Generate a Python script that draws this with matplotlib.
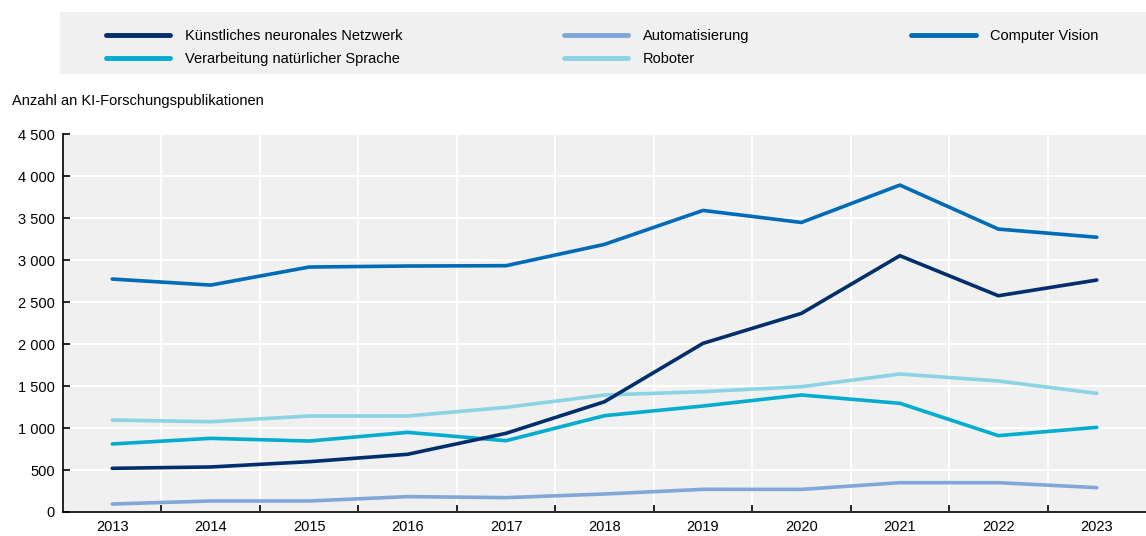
import numpy as np
import matplotlib.pyplot as plt
from matplotlib.patches import Rectangle
from matplotlib.ticker import FuncFormatter, MultipleLocator

plt.rcParams['font.family'] = ['Liberation Sans', 'DejaVu Sans']
plt.rcParams['font.size'] = 10.5

years = [2013, 2014, 2015, 2016, 2017, 2018, 2019, 2020, 2021, 2022, 2023]
knn = [520, 536, 599, 687, 937, 1313, 2008, 2365, 3052, 2575, 2762]
nlp = [810, 877, 845, 948, 849, 1147, 1262, 1393, 1294, 909, 1008]
automation = [95, 131, 131, 183, 171, 214, 270, 269, 349, 349, 290]
robots = [1095, 1075, 1143, 1143, 1246, 1393, 1433, 1492, 1643, 1560, 1413]
vision = [2774, 2702, 2917, 2929, 2933, 3187, 3591, 3448, 3893, 3369, 3272]

labels = ['Künstliches neuronales Netzwerk', 'Verarbeitung natürlicher Sprache',
          'Automatisierung', 'Roboter', 'Computer Vision']
series = [knn, nlp, automation, robots, vision]
colors = ['#002F6C', '#00ACD0', '#7FA8D9', '#8CD3E5', '#006BB6']

fig = plt.figure(figsize=(11.46, 5.36), dpi=100)
ax = fig.add_axes([0.055, 0.0448, 0.945, 0.705])
ax.set_facecolor('#F0F0F0')

# draw in reverse so the dark lines sit on top
handles = {}
for lab, vals, col in reversed(list(zip(labels, series, colors))):
    h, = ax.plot(years, vals, color=col, lw=2.6, solid_capstyle='round', label=lab)
    handles[lab] = h

ax.set_xlim(2012.5, 2023.5)
ax.set_ylim(0, 4500)
ax.yaxis.set_major_locator(MultipleLocator(500))
ax.yaxis.set_major_formatter(FuncFormatter(lambda v, p: f'{int(v):,}'.replace(',', ' ')))
ax.set_xticks(years)
ax.set_xticks(np.arange(2013.5, 2023, 1), minor=True)
ax.tick_params(axis='x', which='major', length=0, pad=6)
ax.tick_params(axis='x', which='minor', length=5, width=1.2, direction='in')
ax.tick_params(axis='y', length=5, width=1.2, direction='in', pad=6)
ax.grid(True, which='minor', axis='x', color='white', lw=1.5)
ax.grid(True, which='major', axis='y', color='white', lw=1.5)
ax.set_axisbelow(True)
for s in ['top', 'right']:
    ax.spines[s].set_visible(False)
for s in ['left', 'bottom']:
    ax.spines[s].set_linewidth(1.2)
    ax.spines[s].set_color('black')

fig.text(12 / 1146, 1 - 101 / 536, 'Anzahl an KI-Forschungspublikationen', ha='left', va='center')

# legend background box
fig.patches.append(Rectangle((60 / 1146, 1 - 74 / 536), 1 - 60 / 1146, 62 / 536,
                             transform=fig.transFigure, facecolor='#F0F0F0', edgecolor='none', zorder=0))
leg = fig.legend([handles[l] for l in labels], labels, ncol=3, loc='upper left',
                 bbox_to_anchor=(93 / 1146, 1 - 16 / 536), frameon=False,
                 handlelength=4.4, handletextpad=1.0, columnspacing=11.1,
                 labelspacing=0.6)
for line in leg.get_lines():
    line.set_linewidth(3.5)

fig.savefig('out.png', dpi=100)
